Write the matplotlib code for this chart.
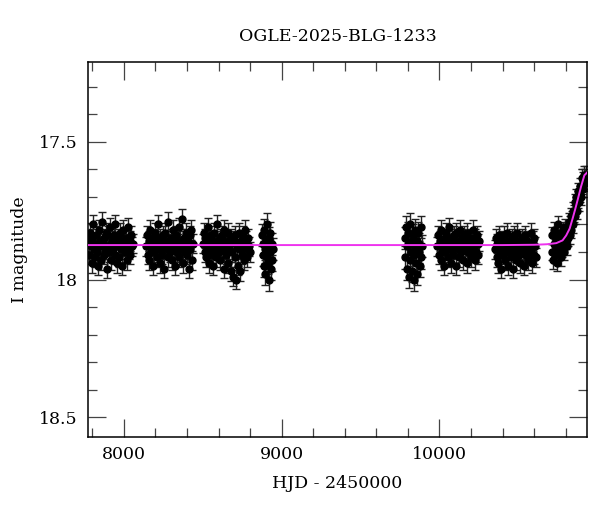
import numpy as np
import matplotlib
matplotlib.use("Agg")
import matplotlib.pyplot as plt
from matplotlib.ticker import MultipleLocator

TITLE = "OGLE-2025-BLG-1233"

# observing seasons (HJD - 2450000, I mag)
hjd_s1 = [7776, 7781, 7786, 7791, 7796, 7801, 7806, 7811, 7816, 7821, 7826, 7831, 7836, 7841, 7846,
          7851, 7856, 7861, 7866, 7871, 7876, 7881, 7886, 7891, 7896, 7901, 7906, 7911, 7916, 7921,
          7926, 7931, 7936, 7941, 7946, 7951, 7956, 7961, 7966, 7971, 7976, 7981, 7986, 7991, 7996,
          8001, 8006, 8011, 8016, 8021, 8026, 8031, 8036, 8041, 8046, 8051, 8056]
mag_s1 = [17.86, 17.91, 17.83, 17.88, 17.94, 17.85, 17.80, 17.89, 17.92, 17.87,
          17.84, 17.90, 17.95, 17.82, 17.88, 17.86, 17.93, 17.79, 17.87, 17.91,
          17.85, 17.89, 17.83, 17.96, 17.88, 17.84, 17.90, 17.81, 17.87, 17.93,
          17.86, 17.89, 17.84, 17.91, 17.80, 17.88, 17.94, 17.85, 17.87, 17.92,
          17.83, 17.89, 17.86, 17.95, 17.82, 17.88, 17.90, 17.85, 17.87, 17.93,
          17.81, 17.89, 17.86, 17.91, 17.84, 17.88, 17.87]

hjd_s2 = [8142, 8147, 8152, 8157, 8162, 8167, 8172, 8177, 8182, 8187, 8192, 8197, 8202, 8207, 8212,
          8217, 8222, 8227, 8232, 8237, 8242, 8247, 8252, 8257, 8262, 8267, 8272, 8277, 8282, 8287,
          8292, 8297, 8302, 8307, 8312, 8317, 8322, 8327, 8332, 8337, 8342, 8347, 8352, 8357, 8362,
          8367, 8372, 8377, 8382, 8387, 8392, 8397, 8402, 8407, 8412, 8417, 8422, 8427, 8432, 8437]
mag_s2 = [17.88, 17.84, 17.91, 17.86, 17.93, 17.82, 17.89, 17.87, 17.95, 17.85,
          17.90, 17.83, 17.88, 17.92, 17.86, 17.80, 17.89, 17.94, 17.85, 17.87,
          17.91, 17.84, 17.88, 17.96, 17.83, 17.89, 17.86, 17.92, 17.79, 17.87,
          17.90, 17.85, 17.93, 17.88, 17.82, 17.89, 17.86, 17.95, 17.84, 17.90,
          17.87, 17.81, 17.92, 17.86, 17.89, 17.78, 17.88, 17.94, 17.85, 17.90,
          17.83, 17.87, 17.91, 17.86, 17.96, 17.84, 17.89, 17.82, 17.93, 17.87]

hjd_s3 = [8502, 8507, 8512, 8517, 8522, 8527, 8532, 8537, 8542, 8547, 8552, 8557, 8562, 8567, 8572,
          8577, 8582, 8587, 8592, 8597, 8602, 8607, 8612, 8617, 8622, 8627, 8632, 8637, 8642, 8647,
          8652, 8657, 8662, 8667, 8672, 8677, 8682, 8687, 8692, 8697, 8702, 8707, 8712, 8717, 8722,
          8727, 8732, 8737, 8742, 8747, 8752, 8757, 8762, 8767, 8772, 8777, 8782, 8787, 8792, 8797]
mag_s3 = [17.87, 17.83, 17.90, 17.85, 17.92, 17.88, 17.81, 17.89, 17.94, 17.86,
          17.84, 17.91, 17.87, 17.95, 17.83, 17.89, 17.86, 17.92, 17.80, 17.88,
          17.90, 17.85, 17.93, 17.87, 17.84, 17.89, 17.96, 17.82, 17.88, 17.91,
          17.86, 17.94, 17.83, 17.89, 17.87, 17.97, 17.85, 17.90, 17.99, 17.86,
          17.92, 17.84, 18.00, 17.88, 17.95, 17.83, 17.89, 17.97, 17.86, 17.91,
          17.84, 17.88, 17.93, 17.82, 17.89, 17.86, 17.92, 17.85, 17.88, 17.90]

hjd_s4 = [8876, 8880, 8883, 8887, 8890, 8894, 8897, 8901, 8904, 8908,
          8911, 8915, 8918, 8922, 8925, 8929, 8932, 8936, 8940, 8944]
mag_s4 = [17.84, 17.91, 17.87, 17.95, 17.82, 17.89, 17.98, 17.86, 17.92, 17.80,
          17.88, 17.94, 17.85, 18.00, 17.90, 17.83, 17.96, 17.87, 17.93, 17.89]

hjd_s5 = [9780, 9784, 9788, 9792, 9796, 9800, 9804, 9808, 9812, 9816, 9820, 9824, 9828, 9832,
          9836, 9840, 9844, 9848, 9852, 9856, 9860, 9864, 9868, 9872, 9876, 9880, 9884, 9888]
mag_s5 = [17.85, 17.92, 17.81, 17.96, 17.88, 17.83, 17.99, 17.87, 17.93, 17.80, 17.90, 17.86, 17.97, 17.84,
          17.91, 18.00, 17.82, 17.89, 17.94, 17.86, 17.98, 17.83, 17.90, 17.87, 17.95, 17.81, 17.92, 17.88]

hjd_s6 = [9987, 9992, 9997, 10002, 10007, 10012, 10017, 10022, 10027, 10032, 10037, 10042, 10047, 10052,
          10057, 10062, 10067, 10072, 10077, 10082, 10087, 10092, 10097, 10102, 10107, 10112, 10117, 10122,
          10127, 10132, 10137, 10142, 10147, 10152, 10157, 10162, 10167, 10172, 10177, 10182, 10187, 10192,
          10197, 10202, 10207, 10212, 10217, 10222, 10227, 10232, 10237, 10242, 10247, 10252]
mag_s6 = [17.88, 17.84, 17.91, 17.86, 17.93, 17.82, 17.89, 17.87, 17.95, 17.85,
          17.90, 17.83, 17.88, 17.92, 17.86, 17.81, 17.89, 17.94, 17.85, 17.87,
          17.91, 17.84, 17.88, 17.95, 17.83, 17.89, 17.86, 17.92, 17.82, 17.87,
          17.90, 17.85, 17.93, 17.88, 17.84, 17.89, 17.86, 17.94, 17.83, 17.90,
          17.87, 17.85, 17.92, 17.86, 17.89, 17.82, 17.88, 17.93, 17.85, 17.90,
          17.84, 17.87, 17.91, 17.86]

hjd_s7 = [10352, 10357, 10362, 10367, 10372, 10377, 10382, 10387, 10392, 10397, 10402, 10407, 10412,
          10417, 10422, 10427, 10432, 10437, 10442, 10447, 10452, 10457, 10462, 10467, 10472, 10477,
          10482, 10487, 10492, 10497, 10502, 10507, 10512, 10517, 10522, 10527, 10532, 10537, 10542,
          10547, 10552, 10557, 10562, 10567, 10572, 10577, 10582, 10587, 10592, 10597, 10602, 10607, 10612]
mag_s7 = [17.89, 17.85, 17.92, 17.87, 17.94, 17.84, 17.90, 17.88, 17.96, 17.86,
          17.91, 17.84, 17.89, 17.93, 17.87, 17.83, 17.90, 17.95, 17.86, 17.88,
          17.92, 17.85, 17.89, 17.96, 17.84, 17.90, 17.87, 17.93, 17.83, 17.88,
          17.91, 17.86, 17.94, 17.89, 17.85, 17.90, 17.87, 17.95, 17.84, 17.91,
          17.88, 17.86, 17.93, 17.87, 17.90, 17.83, 17.89, 17.94, 17.86, 17.91,
          17.85, 17.88, 17.92]

hjd_s8 = [10712, 10716, 10720, 10724, 10728, 10732, 10736, 10740, 10744, 10748, 10752, 10756, 10760,
          10764, 10768, 10772, 10776, 10780, 10784, 10788, 10792, 10796, 10800, 10804, 10808, 10812,
          10816, 10820, 10824, 10828, 10832, 10836, 10840, 10844, 10848, 10852, 10856, 10860, 10864,
          10868, 10872, 10876, 10880, 10884, 10888, 10892, 10896, 10900, 10904, 10908, 10912, 10916,
          10920, 10924, 10928, 10932]
mag_s8 = [17.90, 17.84, 17.93, 17.87, 17.82, 17.91, 17.88, 17.85, 17.94, 17.86, 17.80, 17.90, 17.87,
          17.83, 17.92, 17.85, 17.89, 17.82, 17.88, 17.84, 17.90, 17.81, 17.86, 17.83, 17.88, 17.82,
          17.85, 17.79, 17.84, 17.80, 17.77, 17.82, 17.78, 17.75, 17.80, 17.76, 17.72, 17.77, 17.73,
          17.70, 17.75, 17.71, 17.68, 17.72, 17.69, 17.66, 17.70, 17.66, 17.63, 17.67, 17.64, 17.62,
          17.65, 17.63, 17.62, 17.64]

# typical photometric error of each season
season_err = [0.035, 0.035, 0.035, 0.04, 0.04, 0.035, 0.035, 0.03]

# model curve (magenta)
model_hjd = [7771, 10400, 10600, 10680, 10740, 10780, 10803, 10825, 10844, 10860, 10876, 10897, 10918, 10935]
model_mag = [17.875, 17.875, 17.874, 17.872, 17.868, 17.858, 17.840, 17.815, 17.778, 17.745, 17.71,
             17.663, 17.622, 17.612]

seasons = [(hjd_s1, mag_s1), (hjd_s2, mag_s2), (hjd_s3, mag_s3), (hjd_s4, mag_s4),
           (hjd_s5, mag_s5), (hjd_s6, mag_s6), (hjd_s7, mag_s7), (hjd_s8, mag_s8)]

plt.rcParams['font.family'] = ['DejaVu Serif']
plt.rcParams['font.size'] = 12.5

fig = plt.figure(figsize=(6.0, 5.12), dpi=100)
ax = fig.add_axes([0.1462, 0.1471, 0.8322, 0.7318])

for (t, m), e in zip(seasons, season_err):
    ax.errorbar(t, m, yerr=e, fmt='o', color='black', ms=5, elinewidth=1.0,
                ecolor='#222222', capsize=3, capthick=1.0, zorder=2)

ax.plot(model_hjd, model_mag, color='#ee33ee', lw=1.4, zorder=3)

ax.set_xlim(7771, 10935)
ax.set_ylim(18.570, 17.211)

ax.xaxis.set_major_locator(MultipleLocator(1000))
ax.xaxis.set_minor_locator(MultipleLocator(200))
ax.yaxis.set_major_locator(MultipleLocator(0.5))
ax.yaxis.set_minor_locator(MultipleLocator(0.1))
ax.yaxis.set_major_formatter(plt.FuncFormatter(lambda v, p: f"{v:g}"))

ax.tick_params(which='both', direction='in', top=True, right=True, color='#444444', width=0.9)
ax.tick_params(which='major', length=13, pad=7)
ax.tick_params(which='minor', length=6.5)
for s in ax.spines.values():
    s.set_linewidth(1.1)

ax.set_title(TITLE, fontsize=12.5, pad=15)
ax.set_xlabel("HJD - 2450000", labelpad=8)
ax.set_ylabel("I magnitude", labelpad=8)

fig.savefig("out.png", dpi=100)
